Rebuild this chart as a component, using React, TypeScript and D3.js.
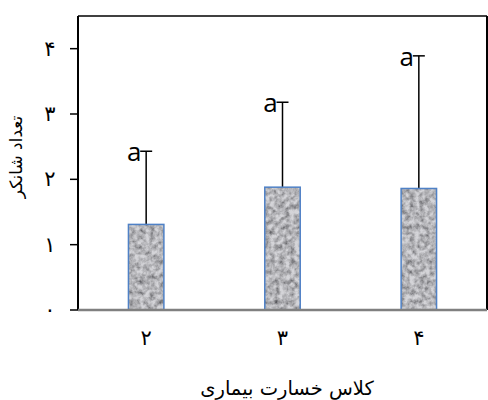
import React from "react";
import * as d3 from "d3";

const categories = ["۲", "۳", "۴"];
const means = [1.31, 1.88, 1.86];
const upperErr = [2.43, 3.18, 3.89];
const letters = ["a", "a", "a"];
const yTicks = [0, 1, 2, 3, 4];
const yTickLabels = ["٠", "۱", "۲", "۳", "۴"];
const yTitle = "تعداد شانکر";
const xTitle = "كلاس خسارت بيماری";

const W = 488, H = 400;
const L = 78, R = 487, T = 16, B = 310;

export default function App() {
  const x = d3.scaleBand<string>().domain(categories).range([L, R]).paddingInner(0.74).paddingOuter(0.37);
  const y = d3.scaleLinear().domain([0, 4.5]).range([B, T]);
  const bw = x.bandwidth();
  return (
    <svg width={W} height={H} style={{ position: "absolute", left: 0, top: 0, background: "#fff" }}>
      <defs>
        <filter id="granite" x="0" y="0" width="1" height="1">
          <feTurbulence type="fractalNoise" baseFrequency="0.2" numOctaves="3" seed="4" result="n" />
          <feColorMatrix in="n" type="matrix"
            values="0 0 0 0 0  0 0 0 0 0  0 0 0 0 0  1.6 0 0 0 -0.45" result="a" />
          <feFlood floodColor="#55555a" result="dark" />
          <feComposite in="dark" in2="a" operator="in" result="darkA" />
          <feFlood floodColor="#d4d4d8" result="light" />
          <feMerge result="m">
            <feMergeNode in="light" />
            <feMergeNode in="darkA" />
          </feMerge>
          <feComposite in="m" in2="SourceGraphic" operator="in" />
        </filter>
      </defs>
      {/* frame */}
      <line x1={L} x2={R} y1={T} y2={T} stroke="#000" strokeWidth={1.5} />
      <line x1={R} x2={R} y1={T} y2={B} stroke="#000" strokeWidth={2} />
      <line x1={L} x2={L} y1={T} y2={B} stroke="#000" strokeWidth={2} />
      {/* y ticks */}
      {yTicks.map((t, i) => (
        <g key={t}>
          <line x1={L - 8} x2={L} y1={y(t)} y2={y(t)} stroke="#000" strokeWidth={1.5} />
          <text x={50} y={y(t)} textAnchor="middle" dominantBaseline="central"
            fontFamily="DejaVu Sans" fontSize={21}>{yTickLabels[i]}</text>
        </g>
      ))}
      {/* bars */}
      {categories.map((c, i) => {
        const cx = (x(c) as number) + bw / 2;
        return (
          <g key={c}>
            <line x1={cx} x2={cx} y1={y(means[i])} y2={y(upperErr[i])} stroke="#000" strokeWidth={1.5} />
            <line x1={cx - 6} x2={cx + 6} y1={y(upperErr[i])} y2={y(upperErr[i])} stroke="#000" strokeWidth={1.5} />
            <rect x={x(c)} y={y(means[i])} width={bw} height={B - y(means[i])} fill="#999" filter="url(#granite)" />
            <rect x={x(c)} y={y(means[i])} width={bw} height={B - y(means[i])} fill="none" stroke="#4f81c6" strokeWidth={1.5} />
            <text x={cx - 12} y={y(upperErr[i])} textAnchor="middle" dominantBaseline="central"
              fontFamily="Open Sans" fontSize={26}>{letters[i]}</text>
            <text x={cx} y={338} textAnchor="middle" dominantBaseline="central"
              fontFamily="DejaVu Sans" fontSize={21}>{c}</text>
          </g>
        );
      })}
      {/* x axis */}
      <line x1={L} x2={R} y1={B} y2={B} stroke="#808080" strokeWidth={2.5} />
      <text x={287} y={388} textAnchor="middle" dominantBaseline="central"
        fontFamily="DejaVu Sans" fontSize={19.5} direction="rtl">{xTitle}</text>
      <text transform={`translate(16,157) rotate(-90)`} textAnchor="middle" dominantBaseline="central"
        fontFamily="DejaVu Sans" fontSize={17} direction="rtl">{yTitle}</text>
    </svg>
  );
}
